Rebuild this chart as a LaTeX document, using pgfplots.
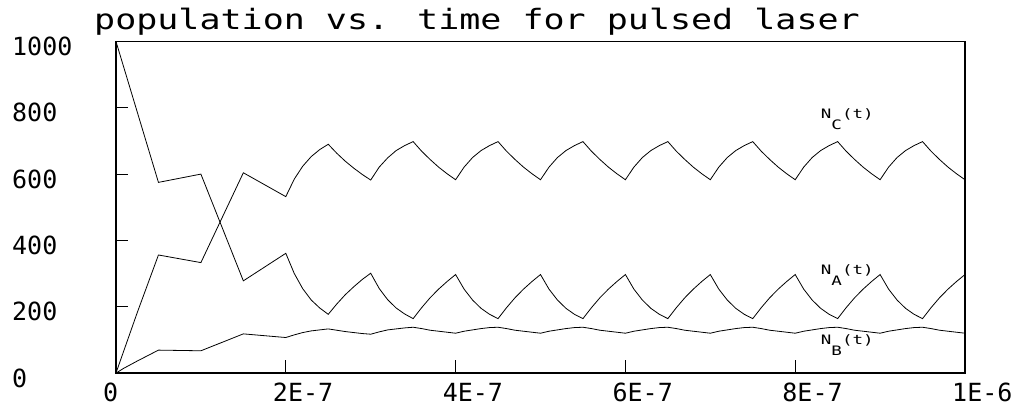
\documentclass[border=0pt]{standalone}
\usepackage{graphicx}
\usepackage{pgfplots}
\pgfplotsset{compat=1.18}
\usepackage{fontspec}
\setmainfont{DejaVu Sans Mono}
\begin{document}
\begin{tikzpicture}
\begin{axis}[
  name=ax,
  scale only axis,
  width=849pt, height=331.5pt,
  xmin=0, xmax=100, ymin=0, ymax=1000,
  xtick={0,20,40,60,80,100},
  xticklabels={0,2E-7,4E-7,6E-7,8E-7,1E-6},
  ytick={0,200,400,600,800,1000},
  yticklabels={0,200,400,600,800,\raisebox{-6pt}{1000}},
  tick align=inside,
  xtick pos=left, ytick pos=left,
  major tick length=12.5pt,
  every tick/.style={black, line width=1pt},
  axis line style={line width=1.2pt},
  tick label style={font=\fontsize{25}{25}\selectfont, inner sep=0pt},
  xticklabel style={anchor=north west, xshift=-13pt, yshift=-10pt},
  yticklabel style={anchor=west, xshift=-104pt, yshift=-5pt},
  clip=false,
]
% N_A
\addplot[black, line width=0.8pt, mark=none] coordinates {(0,1000)(5,575)(10,600)(15,278)(20,361)
(21,300)(22,254)(23,220)(24,196)(25,177)(26,208)(27,236)(28,260)(29,282)(30,301)
(31,255)(32,221)(33,196)(34,178)(35,164)(36,197)(37,227)(38,253)(39,276)(40,297)
(41,253)(42,220)(43,195)(44,177)(45,164)(46,197)(47,227)(48,253)(49,276)(50,297)
(51,253)(52,220)(53,195)(54,177)(55,164)(56,197)(57,227)(58,253)(59,276)(60,297)
(61,253)(62,220)(63,195)(64,177)(65,164)(66,197)(67,227)(68,253)(69,276)(70,297)
(71,253)(72,220)(73,195)(74,177)(75,164)(76,197)(77,227)(78,253)(79,276)(80,297)
(81,253)(82,220)(83,195)(84,177)(85,164)(86,197)(87,227)(88,253)(89,276)(90,297)
(91,253)(92,220)(93,195)(94,177)(95,164)(96,197)(97,227)(98,253)(99,276)(100,297)};
% N_B
\addplot[black, line width=0.8pt, mark=none] coordinates {(0,0)(0.4,6)(0.9,14)(2.5,36)(5,69)(10,67)(15,118)(20,107)
(21,115)(22,122)(23,127)(24,130)(25,133)(26,129)(27,125)(28,122)(29,119)(30,117)
(31,124)(32,130)(33,133)(34,136)(35,138)(36,134)(37,129)(38,126)(39,123)(40,120)
(41,126)(42,130)(43,134)(44,137)(45,138)(46,134)(47,129)(48,126)(49,123)(50,120)
(51,126)(52,130)(53,134)(54,137)(55,138)(56,134)(57,129)(58,126)(59,123)(60,120)
(61,126)(62,130)(63,134)(64,137)(65,138)(66,134)(67,129)(68,126)(69,123)(70,120)
(71,126)(72,130)(73,134)(74,137)(75,138)(76,134)(77,129)(78,126)(79,123)(80,120)
(81,126)(82,130)(83,134)(84,137)(85,138)(86,134)(87,129)(88,126)(89,123)(90,120)
(91,126)(92,130)(93,134)(94,137)(95,138)(96,134)(97,129)(98,126)(99,123)(100,120)};
% N_C
\addplot[black, line width=0.8pt, mark=none] coordinates {(0,0)(2.5,182)(5,356)(10,333)(15,604)(20,532)
(21,585)(22,624)(23,653)(24,674)(25,690)(26,663)(27,639)(28,618)(29,599)(30,582)
(31,621)(32,649)(33,671)(34,686)(35,698)(36,669)(37,644)(38,621)(39,601)(40,583)
(41,621)(42,650)(43,671)(44,686)(45,698)(46,669)(47,644)(48,621)(49,601)(50,583)
(51,621)(52,650)(53,671)(54,686)(55,698)(56,669)(57,644)(58,621)(59,601)(60,583)
(61,621)(62,650)(63,671)(64,686)(65,698)(66,669)(67,644)(68,621)(69,601)(70,583)
(71,621)(72,650)(73,671)(74,686)(75,698)(76,669)(77,644)(78,621)(79,601)(80,583)
(81,621)(82,650)(83,671)(84,686)(85,698)(86,669)(87,644)(88,621)(89,601)(90,583)
(91,621)(92,650)(93,671)(94,686)(95,698)(96,669)(97,644)(98,621)(99,601)(100,583)};
\node[anchor=base west, inner sep=0pt] at (axis cs:83,769)
  {\scalebox{1.35}[1]{\fontsize{13}{13}\selectfont N\raisebox{-11pt}{C}(t)}};
\node[anchor=base west, inner sep=0pt] at (axis cs:83,296)
  {\scalebox{1.35}[1]{\fontsize{13}{13}\selectfont N\raisebox{-11pt}{A}(t)}};
\node[anchor=base west, inner sep=0pt] at (axis cs:83,87)
  {\scalebox{1.35}[1]{\fontsize{13}{13}\selectfont N\raisebox{-11pt}{B}(t)}};
\end{axis}
\node[anchor=base west, inner sep=0pt] at ([xshift=-22pt,yshift=11.5pt]ax.north west)
  {\scalebox{1.25}[1]{\fontsize{28}{28}\selectfont population vs. time for pulsed laser}};
\pgfresetboundingbox
\path ([xshift=-116pt,yshift=-35pt]ax.south west) rectangle ([xshift=63pt,yshift=41.5pt]ax.north east);
\end{tikzpicture}
\end{document}
